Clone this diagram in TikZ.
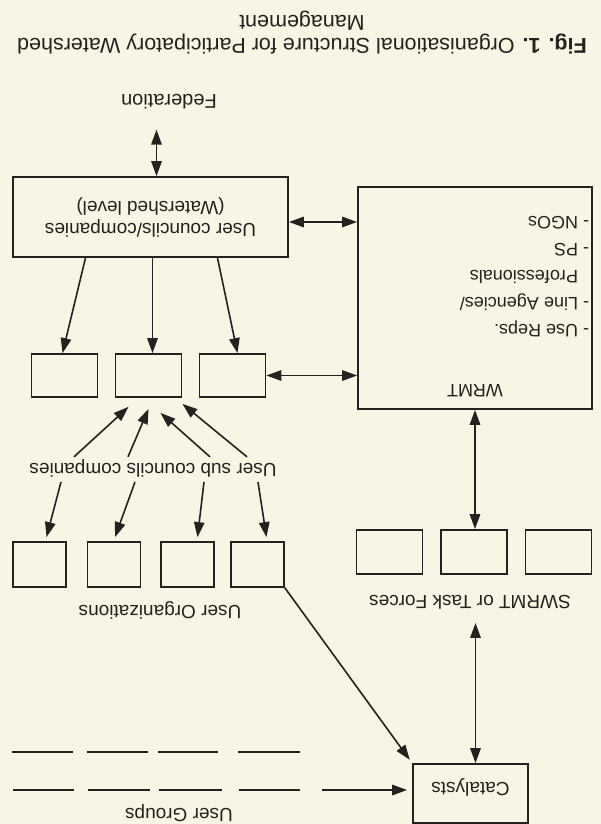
\documentclass[tikz,border=0pt]{standalone}
\usepackage{fontspec}
\setmainfont{Liberation Sans}
\usetikzlibrary{arrows.meta}
\definecolor{paper}{RGB}{249,245,228}
\definecolor{ink}{RGB}{36,34,32}

\begin{document}
\begin{tikzpicture}[x=1pt, y=1pt, rotate=180, transform shape,
	every node/.style={font=\fontsize{19}{22}\selectfont, text=ink},
	>={Triangle[length=15pt, width=10.5pt]},
	box/.style={draw=ink, line width=1.8pt, inner sep=0pt},
	lbl/.style={inner sep=2pt, anchor=base},
	conn/.style={draw=ink, line width=1.6pt}]
	% page in upright coordinates, the whole scan is turned upside down
	\useasboundingbox (0,0) rectangle (601,824);
	\fill[paper] (0,0) rectangle (601,824);

	\node[align=center, font=\fontsize{21.5}{23}\selectfont] (caption) at (299,33) {\textbf{Fig. 1.} Organisational Structure for Participatory Watershed\\Management};
	\node[lbl, font=\fontsize{20}{24}\selectfont] (fed) at (432,95) {Federation};

	\node[box, minimum width=275pt, minimum height=80pt, align=center] (council) at (450.5,217) {User councils/companies\\(Watershed level)};
	\node[box, inner sep=3pt, font=\fontsize{18}{27}\selectfont] (wrmt) at (126,298) {%
		\begin{minipage}[c][216pt][t]{228pt}
		\vspace*{9pt}
		\centering WRMT\par
		\vspace{33pt}
		\raggedright
		- Use Reps.\par
		- Line Agencies/\par
		\phantom{- }Professionals\par
		- PS\par
		- NGOs
		\end{minipage}};

	% sub councils, user organizations, SWRMT boxes
	\foreach \i/\x in {1/536.5, 2/452.5, 3/368.5}
		\node[box, minimum width=66pt, minimum height=43pt] (sc\i) at (\x,375.5) {};
	\foreach \i/\x in {1/561.5, 2/487, 3/413.5, 4/343.5}
		\node[box, minimum width=53pt, minimum height=45pt] (uo\i) at (\x,564.5) {};
	\foreach \i/\x in {1/211.5, 2/127, 3/42.5}
		\node[box, minimum width=66pt, minimum height=44pt] (sw\i) at (\x,552) {};

	\node[lbl] (subs) at (448,463) {User sub councils companies};
	\node[lbl] (orgs) at (441,605) {User Organizations};
	\node[lbl] (swlbl) at (131,595) {SWRMT or Task Forces};
	\node[lbl] (groups) at (422,808) {User Groups};
	\node[box, minimum width=115pt, minimum height=59pt, text height=24pt, text depth=1pt] (cat) at (130.5,793.5) {Catalysts};

	\draw[conn, <->, shorten >=18pt] ([xshift=-6pt]council.south) -- ([xshift=-6pt]council.south |- fed.north);
	\draw[conn, <->] ([yshift=5pt]council.west) -- ([yshift=5pt]council.west -| wrmt.east);
	\draw[conn, <->] (sc3.west) -- (sc3.west -| wrmt.east);
	\draw[conn, ->] ([xshift=65pt]council.north) -- ([xshift=2pt]sc1.south);
	\draw[conn, ->] ([xshift=-2pt]council.north) -- ([xshift=-4pt]sc2.south);
	\draw[conn, ->] ([xshift=-67pt]council.north) -- ([xshift=-5pt]sc3.south);

	\foreach \a/\b/\c in {79/20/9, 25/0/11, -57/-12/15, -94/-34/6}
		\draw[conn, ->] ([xshift=\a pt]subs.south) -- ([xshift=\b pt, yshift=\c pt]sc2.north);
	\foreach \a/\b/\i in {92/-7/1, 18/-1/2, -51/-10/3, -105/-9/4}
		\draw[conn, ->] ([xshift=\a pt, yshift=3pt]subs.north) -- ([xshift=\b pt, yshift=-4pt]uo\i.south);

	\draw[conn, <->] (wrmt.north) -- (wrmt.north |- sw2.south);
	\draw[conn, <->, shorten >=12pt] ([xshift=-5pt]cat.south) -- ([xshift=-5pt]cat.south |- swlbl.north);
	\draw[conn, ->, shorten >=4pt] (uo4.north west) -- (cat.south east);

	% user groups
	\foreach \a/\b in {589/528, 514/453, 443/383, 363/301}
		\draw[conn] (\a,752) -- (\b,752);
	\foreach \a/\b in {588/527, 513/451, 442/379, 362/301}
		\draw[conn] (\a,790) -- (\b,790);
	\coordinate (ug) at (279,790);
	\draw[conn, ->, shorten >=5pt] (ug) -- (ug -| cat.east);
\end{tikzpicture}
\end{document}
